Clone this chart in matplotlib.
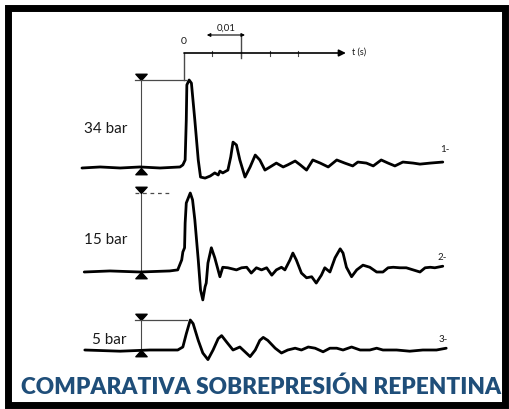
import matplotlib
matplotlib.use("Agg")
import matplotlib.pyplot as plt
from matplotlib.path import Path
from matplotlib.transforms import blended_transform_factory
from matplotlib.patches import Rectangle

# ---------------- data ----------------
title = "COMPARATIVA SOBREPRESIÓN REPENTINA"
trace_names = ["1-", "2-", "3-"]
peak_labels = ["34 bar", "15 bar", "5 bar"]
peak_bar = [34, 15, 5]

# trace 1: sudden overpressure, 34 bar peak
t1_ms = [-17.9, -14.7, -11.2, -7.7, -4.2, -0.7, -0.2, 0.2, 0.4, 0.5, 0.9, 1.3,
         1.9, 2.5, 2.9, 3.7, 4.6, 5.4, 6.0, 6.3, 6.8, 7.7, 8.2, 8.6, 9.2, 9.8,
         10.7, 11.6, 12.5, 13.3, 14.2, 15.1, 16.2, 17.4, 18.2, 19.5, 20.4,
         21.5, 22.6, 23.9, 25.3, 26.8, 28.2, 29.6, 30.5, 32.0, 33.2, 34.6,
         35.8, 37.0, 38.4, 40.2, 41.4, 43.2, 45.4]
p1_bar = [0.0, 0.4, 0.0, 0.4, 0.0, 0.4, 1.2, 3.1, 18.5, 32.1, 34.0, 32.8,
          18.5, 3.1, -3.5, -3.9, -3.1, -1.9, -2.7, -1.2, -1.9, -0.8, 4.3, 10.0,
          8.9, 3.1, -3.5, 0.4, 5.0, 3.1, -0.8, 0.4, 1.9, 0.4, 1.2, 2.7, 1.2,
          -0.8, 3.1, 1.9, 0.4, 3.1, 1.9, 0.8, 2.3, 1.9, 0.8, 3.1, 1.9, 0.8,
          2.3, 1.9, 1.5, 1.9, 2.3]

# trace 2: 15 bar peak
t2_ms = [-17.5, -13.0, -7.7, -2.5, -1.1, -0.4, -0.2, 0.1, 0.2, 0.4, 1.1, 1.5,
         1.9, 2.5, 2.9, 3.3, 3.7, 3.9, 4.2, 4.8, 5.4, 6.3, 6.8, 7.7, 9.2,
         10.1, 11.0, 11.8, 12.7, 13.6, 14.5, 15.4, 16.2, 17.1, 17.7, 18.6,
         19.1, 19.7, 20.6, 21.5, 22.4, 23.2, 24.1, 24.7, 25.6, 26.5, 27.4,
         27.9, 28.5, 29.4, 30.3, 31.4, 32.6, 33.8, 34.9, 35.8, 36.7, 37.9,
         39.0, 40.2, 41.4, 42.3, 43.2, 44.0, 45.4]
p2_bar = [0.0, 0.2, 0.0, 0.2, 0.4, 2.3, 3.8, 4.6, 9.3, 13.1, 15.0, 13.7, 9.9,
          2.3, -3.4, -5.3, -2.8, -2.1, 1.7, 4.6, 2.7, -0.9, 0.9, 0.8, 0.4, 0.8,
          0.9, -0.2, 0.8, 0.4, 0.8, -0.6, 0.4, 0.9, 0.4, 2.3, 3.6, 2.3, -0.2,
          -1.1, -0.9, -2.1, -0.6, 0.8, 0.0, 2.7, 4.4, 3.6, 0.9, -0.9, 0.4, 1.3,
          0.9, 0.0, 0.0, 0.8, 0.9, 0.8, 0.8, 0.4, 0.0, 0.8, 0.9, 0.8, 1.1]

# trace 3: 5 bar peak
t3_ms = [-17.4, -11.2, -6.0, -1.1, -0.2, 0.4, 1.1, 1.6, 2.5, 3.3, 4.2, 5.1,
         6.0, 6.6, 7.5, 8.6, 9.8, 10.7, 11.6, 12.5, 13.3, 13.9, 14.7, 16.0,
         17.1, 18.2, 19.5, 20.6, 21.8, 23.0, 24.4, 25.6, 26.8, 27.9, 29.4,
         30.9, 32.6, 33.8, 34.9, 37.3, 39.6, 41.9, 44.3, 46.0]
p3_bar = [0.0, -0.2, 0.0, 0.0, 0.5, 2.7, 5.0, 4.4, 1.6, -0.5, -1.6, 0.0, 1.9,
          2.4, 1.3, 0.0, 0.5, -0.3, -1.1, 0.0, 1.6, 2.1, 1.6, 0.3, -0.5, 0.0,
          0.3, 0.0, 0.5, 0.3, -0.3, 0.3, 0.3, 0.0, 0.5, 0.0, 0.0, 0.3, 0.0,
          0.0, -0.2, 0.0, 0.0, 0.3]

times = [t1_ms, t2_ms, t3_ms]
pressures = [p1_bar, p2_bar, p3_bar]

time_ticks_ms = [5, 10, 15, 20]
scale_bar_ms = [4.0, 10.7]
scale_label = "0,01"
time_label = "t (s)"
time_axis_end_ms = 28.4

# ---------------- layout ----------------
W, H = 509, 409
T0_PX = 184.0          # column of t = 0
PX_PER_MS = 5.7
# (baseline row, rows per bar) for each trace
trace_rows = [(168.0, 88.0 / 34), (272.0, 79.0 / 15), (350.0, 30.0 / 5)]
COL_X = 141.0           # column of the pressure brackets
LABEL_FONT = "Lato"
INK = "#1a1a1a"

fig = plt.figure(figsize=(W / 100, H / 100), dpi=100)
canvas = fig.add_axes([0, 0, 1, 1])
canvas.set_xlim(0, W)
canvas.set_ylim(H, 0)
canvas.axis("off")

# outer frame
canvas.add_patch(Rectangle((8.5, 7.5), 497, 397.5, fill=False,
                           edgecolor="black", lw=5.0, zorder=5))

gray = "#4a4a4a"
tri_down = Path([(-0.9, 1.0), (0.9, 1.0), (0.0, 0.0), (-0.9, 1.0)],
                [Path.MOVETO, Path.LINETO, Path.LINETO, Path.CLOSEPOLY])
tri_up = Path([(-0.9, -1.0), (0.9, -1.0), (0.0, 0.0), (-0.9, -1.0)],
              [Path.MOVETO, Path.LINETO, Path.LINETO, Path.CLOSEPOLY])

ref_end_x = [186, 172, 187]
ref_style = ["-", (0, (3, 3)), "-"]
label_frac = [0.44, 0.40, 0.33]
name_pos = [(440, 150), (438, 258), (439, 340)]

trace_axes = []
for i in range(3):
    base, g = trace_rows[i]
    ax = fig.add_axes([0, 0, 1, 1], frameon=False)
    ax.patch.set_alpha(0)
    ax.axis("off")
    ax.set_xlim(-T0_PX / PX_PER_MS, (W - T0_PX) / PX_PER_MS)
    ax.set_ylim((base - H) / g, base / g)
    trace_axes.append(ax)

    ax.plot(times[i], pressures[i], color="black", lw=2.0,
            solid_joinstyle="round", solid_capstyle="round", zorder=3)

    blend = blended_transform_factory(canvas.transData, ax.transData)
    pk = peak_bar[i]
    # vertical bracket with arrow heads
    ax.plot([COL_X, COL_X], [0, pk], transform=blend, color=gray, lw=0.8)
    ax.plot([COL_X], [pk], transform=blend, marker=tri_down, ms=9,
            color="black", ls="none")
    ax.plot([COL_X], [0], transform=blend, marker=tri_up, ms=9,
            color="black", ls="none")
    # peak reference line
    ax.plot([COL_X - 6, ref_end_x[i]], [pk, pk], transform=blend,
            color=gray, lw=0.9, ls=ref_style[i])
    # bracket label
    ax.text(127, pk * label_frac[i], peak_labels[i], transform=blend,
            ha="right", va="center", fontsize=11, family=LABEL_FONT,
            color=INK)
    # trace number
    canvas.text(*name_pos[i], trace_names[i], ha="left", va="center",
                fontsize=7, family=LABEL_FONT, color=INK)

# time axis (drawn in the time units of the first trace)
ax1 = trace_axes[0]
tb = blended_transform_factory(ax1.transData, canvas.transData)
AXIS_ROW = 53
peak_row = trace_rows[0][0] - peak_bar[0] * trace_rows[0][1]
ax1.annotate("", xy=(time_axis_end_ms, AXIS_ROW), xytext=(0, AXIS_ROW),
             xycoords=tb, textcoords=tb,
             arrowprops=dict(arrowstyle="-|>", color="black", lw=1.2,
                             mutation_scale=10, shrinkA=0, shrinkB=0))
ax1.plot([0, 0], [AXIS_ROW, peak_row], transform=tb, color=gray, lw=1.0)
for tk in time_ticks_ms:
    ax1.plot([tk, tk], [AXIS_ROW - 2.5, AXIS_ROW + 2.5], transform=tb,
             color=gray, lw=0.8)
ax1.plot([10, 10], [35, 58], transform=tb, color=gray, lw=1.0)
ax1.annotate("", xy=(scale_bar_ms[1], 35), xytext=(scale_bar_ms[0], 35),
             xycoords=tb, textcoords=tb,
             arrowprops=dict(arrowstyle="<|-|>", color="black", lw=0.8,
                             mutation_scale=5, shrinkA=0, shrinkB=0))
ax1.text(sum(scale_bar_ms) / 2, 28, scale_label, transform=tb, ha="center",
         va="center", fontsize=7, family=LABEL_FONT, color=INK)
ax1.text(0, 42, "0", transform=tb, ha="center", va="center", fontsize=7.5,
         family=LABEL_FONT, color=INK)
canvas.text(352, 52, time_label, ha="left", va="center", fontsize=6.5,
            family=LABEL_FONT, color=INK)

# title
canvas.text(261, 387, title, ha="center", va="center", fontsize=16.3,
            fontweight="heavy", family="Lato", color="#1F4E79")

fig.savefig("out.png", dpi=100)
